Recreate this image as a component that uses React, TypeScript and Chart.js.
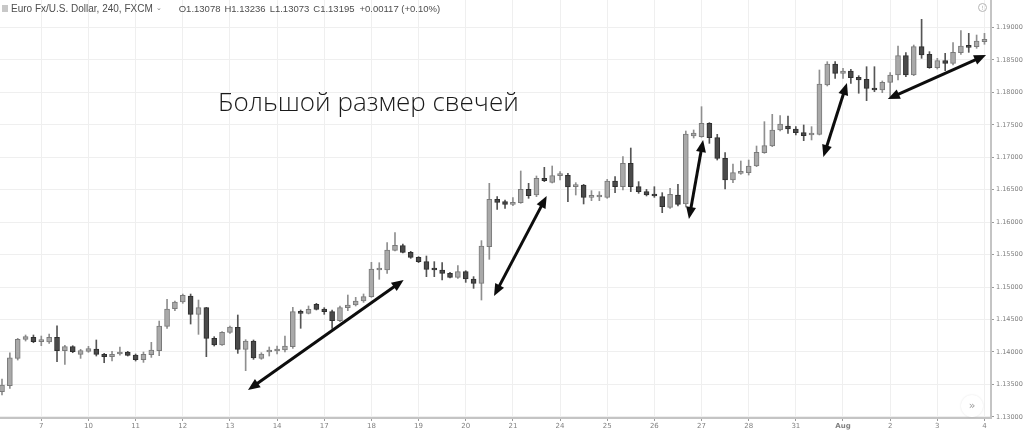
import React, { useEffect, useRef } from 'react';
import { Chart, registerables } from 'chart.js';

Chart.register(...registerables);

// ---- Data (EUR/USD, 4h candles, FXCM) ----
const opens = [
  1.13388, 1.13481, 1.13902, 1.14195, 1.14226, 1.14159, 1.14154, 1.14226, 1.1402, 1.14082,
  1.13964, 1.1401, 1.14046, 1.13964, 1.13928, 1.13969, 1.14, 1.13953, 1.13882, 1.13959,
  1.1402, 1.14395, 1.14667, 1.1477, 1.14862, 1.1458, 1.14683, 1.1421, 1.14108, 1.14303,
  1.1438, 1.14041, 1.14169, 1.13902, 1.14, 1.14015, 1.14031, 1.14082, 1.14622, 1.14596,
  1.14735, 1.14663, 1.14622, 1.14483, 1.14683, 1.14724, 1.14786, 1.14853, 1.15264, 1.15264,
  1.15567, 1.15639, 1.15536, 1.15459, 1.15392, 1.15279, 1.15264, 1.15212, 1.15151, 1.15238,
  1.15125, 1.15058, 1.15623, 1.16352, 1.16316, 1.16275, 1.16301, 1.16506, 1.16419, 1.16676,
  1.16614, 1.16717, 1.16722, 1.16547, 1.16573, 1.16383, 1.16388, 1.16383, 1.16635, 1.16547,
  1.16907, 1.16547, 1.16471, 1.16429, 1.16393, 1.16229, 1.16419, 1.1628, 1.17328, 1.17318,
  1.17523, 1.17303, 1.16984, 1.1665, 1.16753, 1.16763, 1.16866, 1.17071, 1.17174, 1.17421,
  1.17482, 1.17436, 1.1738, 1.17344, 1.17354, 1.18114, 1.18437, 1.18294, 1.1833, 1.18232,
  1.18201, 1.18063, 1.18037, 1.18155, 1.18268, 1.18566, 1.18268, 1.18705, 1.18587, 1.18381,
  1.18489, 1.18448, 1.18612, 1.1872, 1.18705, 1.18782,
];
const highs = [
  1.13584, 1.13989, 1.1421, 1.14262, 1.14262, 1.14246, 1.14277, 1.14405, 1.14102, 1.14097,
  1.14041, 1.14087, 1.14185, 1.13979, 1.1401, 1.14077, 1.1401, 1.13969, 1.14, 1.14149,
  1.14477, 1.14811, 1.14785, 1.14893, 1.14893, 1.14801, 1.14688, 1.14236, 1.14313, 1.144,
  1.1457, 1.1419, 1.14185, 1.13989, 1.14077, 1.14092, 1.14246, 1.14688, 1.14647, 1.14709,
  1.1475, 1.14683, 1.14647, 1.14709, 1.14878, 1.14842, 1.14894, 1.15382, 1.15376, 1.15685,
  1.15839, 1.15664, 1.15551, 1.15469, 1.15479, 1.15392, 1.15376, 1.15228, 1.1533, 1.15253,
  1.15161, 1.15716, 1.16599, 1.16394, 1.16342, 1.16378, 1.16789, 1.16599, 1.16712, 1.16845,
  1.16866, 1.16779, 1.16753, 1.16609, 1.16583, 1.16486, 1.16471, 1.1666, 1.16702, 1.1701,
  1.17143, 1.16625, 1.16506, 1.16547, 1.16455, 1.16522, 1.16583, 1.17405, 1.17421, 1.1778,
  1.17534, 1.17354, 1.17071, 1.16897, 1.16943, 1.16958, 1.17174, 1.17549, 1.17662, 1.17642,
  1.17636, 1.17472, 1.17498, 1.17472, 1.18345, 1.18473, 1.18473, 1.18371, 1.18355, 1.18258,
  1.18396, 1.18396, 1.18176, 1.18304, 1.18715, 1.18612, 1.1873, 1.19126, 1.18628, 1.18525,
  1.18602, 1.18766, 1.18951, 1.1891, 1.18884, 1.1891,
];
const lows = [
  1.13338, 1.1344, 1.13876, 1.14169, 1.14143, 1.14097, 1.14133, 1.13851, 1.1381, 1.13989,
  1.13902, 1.13995, 1.13938, 1.13835, 1.13861, 1.13953, 1.13938, 1.13861, 1.1384, 1.13917,
  1.13943, 1.14364, 1.14637, 1.1475, 1.14431, 1.14272, 1.13928, 1.14092, 1.14102, 1.14287,
  1.13979, 1.13712, 1.13887, 1.13887, 1.13938, 1.13969, 1.14, 1.14056, 1.14365, 1.14586,
  1.14647, 1.1458, 1.14365, 1.14468, 1.14637, 1.14709, 1.14765, 1.14842, 1.1512, 1.15212,
  1.15556, 1.15526, 1.15443, 1.15377, 1.15161, 1.15161, 1.15109, 1.1514, 1.15135, 1.15073,
  1.14981, 1.14801, 1.15428, 1.16198, 1.16214, 1.16255, 1.16291, 1.16368, 1.16393, 1.16625,
  1.16604, 1.1665, 1.16316, 1.16419, 1.16281, 1.16332, 1.16332, 1.16368, 1.16455, 1.16496,
  1.16471, 1.16445, 1.16404, 1.16383, 1.16147, 1.16214, 1.1625, 1.16234, 1.17297, 1.17308,
  1.17215, 1.16958, 1.16512, 1.16609, 1.16738, 1.16727, 1.16856, 1.17061, 1.17164, 1.17405,
  1.17369, 1.17344, 1.17256, 1.17267, 1.17344, 1.18099, 1.18217, 1.18217, 1.1814, 1.17987,
  1.17873, 1.18011, 1.17996, 1.17934, 1.18191, 1.18242, 1.18258, 1.18525, 1.18371, 1.1836,
  1.18335, 1.18422, 1.18587, 1.18617, 1.18679, 1.18741,
];
const closes = [
  1.13492, 1.13912, 1.14195, 1.14236, 1.14159, 1.14169, 1.14226, 1.1402, 1.14082, 1.14005,
  1.1402, 1.14051, 1.13964, 1.13928, 1.13964, 1.14, 1.13948, 1.13882, 1.13964, 1.1403,
  1.144, 1.14662, 1.1477, 1.14873, 1.1458, 1.14683, 1.1421, 1.14108, 1.14303, 1.14385,
  1.14041, 1.14169, 1.13907, 1.13969, 1.14031, 1.14046, 1.14092, 1.14622, 1.14596, 1.14657,
  1.14657, 1.14622, 1.14483, 1.14683, 1.14724, 1.14786, 1.14853, 1.15279, 1.15284, 1.15572,
  1.15644, 1.15536, 1.15459, 1.15392, 1.15274, 1.15264, 1.15212, 1.15151, 1.15238, 1.15125,
  1.15058, 1.15633, 1.16352, 1.16306, 1.16275, 1.16306, 1.16506, 1.16409, 1.16676, 1.1664,
  1.16717, 1.16738, 1.16542, 1.16573, 1.16383, 1.16409, 1.16404, 1.16635, 1.16547, 1.16907,
  1.16547, 1.16471, 1.16419, 1.16404, 1.16239, 1.16429, 1.16275, 1.17359, 1.17374, 1.17523,
  1.17303, 1.16984, 1.1665, 1.16763, 1.16779, 1.16866, 1.17077, 1.17179, 1.17421, 1.17513,
  1.17436, 1.1738, 1.17333, 1.17359, 1.18129, 1.18437, 1.18294, 1.1833, 1.18227, 1.18191,
  1.18063, 1.18037, 1.18155, 1.18268, 1.18566, 1.18268, 1.18705, 1.18576, 1.18381, 1.18489,
  1.18448, 1.18617, 1.18715, 1.18694, 1.18792, 1.18818,
];

// Day ticks: candle index of first bar of each day, and label
const dayTickIndex = [5, 11, 17, 23, 29, 35, 41, 47, 53, 59, 65, 71, 77, 83, 89, 95, 101, 107, 113, 119, 125];
const dayTickLabels = ['7', '10', '11', '12', '13', '14', '17', '18', '19', '20', '21', '24', '25', '26', '27', '28', '31', 'Aug', '2', '3', '4'];

const priceTicks = [1.13, 1.135, 1.14, 1.145, 1.15, 1.155, 1.16, 1.165, 1.17, 1.175, 1.18, 1.185, 1.19];

// Annotation arrows: [fromIndex, fromPrice] -> [toIndex, toPrice], double-headed
const arrowFromIndex = [31.3, 62.6, 87.4, 104.5, 112.7];
const arrowFromPrice = [1.13414, 1.14863, 1.16049, 1.17005, 1.17898];
const arrowToIndex = [51.1, 69.3, 89.2, 107.5, 125.2];
const arrowToPrice = [1.15109, 1.16404, 1.17267, 1.18145, 1.18576];

const headerSymbol = 'Euro Fx/U.S. Dollar, 240, FXCM';
const headerValues = ['O1.13078', 'H1.13236', 'L1.13073', 'C1.13195'];
const headerChange = '+0.00117 (+0.10%)';
const bigCaption = 'Большой размер свечей';

const UP_FILL = '#a9a9a9';
const UP_BORDER = '#7a7a7a';
const DOWN_FILL = '#4a4a4a';
const DOWN_BORDER = '#2f2f2f';

const arrowPlugin = {
  id: 'arrowsPlugin',
  afterDatasetsDraw(chart: any) {
    const { ctx } = chart;
    const xs = chart.scales.x;
    const ys = chart.scales.y;
    ctx.save();
    ctx.strokeStyle = '#0d0d0d';
    ctx.fillStyle = '#0d0d0d';
    ctx.lineWidth = 3;
    ctx.lineCap = 'butt';
    const headLen = 12;
    const headHalf = 5;
    for (let i = 0; i < arrowFromIndex.length; i++) {
      const x1 = xs.getPixelForValue(arrowFromIndex[i]);
      const y1 = ys.getPixelForValue(arrowFromPrice[i]);
      const x2 = xs.getPixelForValue(arrowToIndex[i]);
      const y2 = ys.getPixelForValue(arrowToPrice[i]);
      const dx = x2 - x1;
      const dy = y2 - y1;
      const len = Math.hypot(dx, dy);
      const ux = dx / len;
      const uy = dy / len;
      ctx.beginPath();
      ctx.moveTo(x1 + ux * (headLen - 2), y1 + uy * (headLen - 2));
      ctx.lineTo(x2 - ux * (headLen - 2), y2 - uy * (headLen - 2));
      ctx.stroke();
      const drawHead = (tx: number, ty: number, dxu: number, dyu: number) => {
        const bx = tx - dxu * headLen;
        const by = ty - dyu * headLen;
        ctx.beginPath();
        ctx.moveTo(tx, ty);
        ctx.lineTo(bx - dyu * headHalf, by + dxu * headHalf);
        ctx.lineTo(bx + dyu * headHalf, by - dxu * headHalf);
        ctx.closePath();
        ctx.fill();
      };
      drawHead(x2, y2, ux, uy);
      drawHead(x1, y1, -ux, -uy);
    }
    ctx.restore();
  },
};

export default function App() {
  const canvasRef = useRef<HTMLCanvasElement | null>(null);

  useEffect(() => {
    const canvas = canvasRef.current;
    if (!canvas) return;
    const n = opens.length;
    const bodies: any[] = [];
    const wicks: any[] = [];
    const bodyFill: string[] = [];
    const bodyBorder: string[] = [];
    const wickColor: string[] = [];
    for (let i = 0; i < n; i++) {
      const up = closes[i] >= opens[i];
      bodies.push({ x: i, y: [opens[i], closes[i]] });
      wicks.push({ x: i, y: [lows[i], highs[i]] });
      bodyFill.push(up ? UP_FILL : DOWN_FILL);
      bodyBorder.push(up ? UP_BORDER : DOWN_BORDER);
      wickColor.push(up ? '#8f8f8f' : '#555555');
    }

    const chart = new Chart(canvas, {
      type: 'bar',
      data: {
        datasets: [
          {
            label: 'body',
            data: bodies,
            backgroundColor: bodyFill,
            borderColor: bodyBorder,
            borderWidth: 1,
            borderSkipped: false,
            barThickness: 5,
            minBarLength: 2,
            grouped: false,
          } as any,
          {
            label: 'wick',
            data: wicks,
            backgroundColor: wickColor,
            borderWidth: 0,
            barThickness: 1,
            grouped: false,
          } as any,
        ],
      },
      options: {
        responsive: false,
        animation: false,
        layout: { padding: 0 },
        plugins: {
          legend: { display: false },
          tooltip: { enabled: false },
          title: { display: false },
        },
        scales: {
          x: {
            type: 'linear',
            offset: false,
            min: -0.254,
            max: 125.83,
            afterBuildTicks: (s: any) => {
              s.ticks = dayTickIndex.map((v) => ({ value: v }));
            },
            afterFit: (s: any) => {
              s.height = 16;
              s.paddingLeft = 0;
              s.paddingRight = 0;
              s.paddingTop = 0;
              s.paddingBottom = 0;
            },
            ticks: {
              autoSkip: false,
              maxRotation: 0,
              minRotation: 0,
              padding: 1,
              color: '#808080',
              font: (c: any) => ({
                family: 'DejaVu Sans',
                size: 7,
                weight: c.index === 17 ? 'bold' : 'normal',
              }),
              callback: (_v: any, i: number) => dayTickLabels[i],
            },
            grid: { offset: false, color: '#efefef', lineWidth: 1, tickLength: 3, tickColor: '#9a9a9a' },
            border: { color: '#c4c4c4', width: 2 },
          },
          y: {
            type: 'linear',
            position: 'right',
            min: 1.12983,
            max: 1.194237,
            afterBuildTicks: (s: any) => {
              s.ticks = priceTicks.map((v) => ({ value: v }));
            },
            afterFit: (s: any) => {
              s.width = 33;
              s.paddingLeft = 0;
              s.paddingRight = 0;
              s.paddingTop = 0;
              s.paddingBottom = 0;
            },
            ticks: {
              padding: 2,
              color: '#808080',
              font: { family: 'DejaVu Sans', size: 6.5 },
              callback: (v: any) => Number(v).toFixed(5),
            },
            grid: { offset: false, color: '#efefef', lineWidth: 1, tickLength: 3, tickColor: '#9a9a9a' },
            border: { color: '#c4c4c4', width: 2 },
          },
        },
      },
      plugins: [arrowPlugin],
    } as any);
    return () => chart.destroy();
  }, []);

  return (
    <div
      style={{
        position: 'fixed',
        left: 0,
        top: 0,
        width: 1024,
        height: 434,
        background: '#ffffff',
        overflow: 'hidden',
      }}
    >
      <canvas ref={canvasRef} width={1024} height={434} style={{ display: 'block' }} />
      <div
        style={{
          position: 'absolute',
          left: 2,
          top: 2,
          height: 12,
          display: 'flex',
          alignItems: 'center',
          fontFamily: "'Liberation Sans', Arial, sans-serif",
          fontSize: 10,
          color: '#4d4d4d',
          whiteSpace: 'pre',
        }}
      >
        <span style={{ display: 'inline-block', width: 6, height: 7, background: '#c8c8c8', marginRight: 3 }} />
        <span>{headerSymbol}</span>
        <span style={{ fontSize: 7, color: '#777', marginLeft: 3 }}>⌄</span>
        {headerValues.map((t, i) => (
          <span key={t} style={{ fontSize: 9.5, marginLeft: i === 0 ? 17 : 4 }}>
            {t}
          </span>
        ))}
        <span style={{ fontSize: 9.5, marginLeft: 5 }}>{headerChange}</span>
      </div>
      <div
        style={{
          position: 'absolute',
          left: 218,
          top: 86,
          lineHeight: '30px',
          fontFamily: "'Open Sans', 'Noto Sans', sans-serif",
          fontWeight: 300,
          fontSize: 26,
          color: '#1a1a1a',
          whiteSpace: 'nowrap',
        }}
      >
        {bigCaption}
      </div>
      <div
        style={{
          position: 'absolute',
          left: 978,
          top: 3,
          width: 9,
          height: 9,
          borderRadius: '50%',
          border: '1px solid #b5b5b5',
          boxSizing: 'border-box',
          fontSize: 6,
          lineHeight: '7px',
          textAlign: 'center',
          color: '#aaa',
          fontFamily: 'DejaVu Sans',
        }}
      >
        !
      </div>
      <div
        style={{
          position: 'absolute',
          left: 961,
          top: 395,
          width: 22,
          height: 22,
          borderRadius: '50%',
          background: '#fff',
          boxShadow: '0 0 2px rgba(0,0,0,0.12)',
          fontSize: 11,
          lineHeight: '22px',
          textAlign: 'center',
          color: '#9a9a9a',
          fontFamily: 'DejaVu Sans',
        }}
      >
        »
      </div>
    </div>
  );
}
